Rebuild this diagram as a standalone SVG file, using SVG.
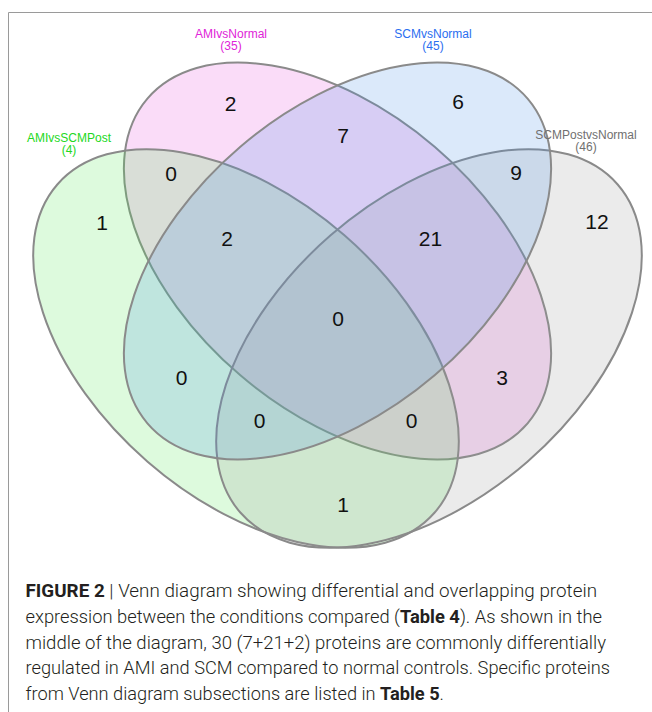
<svg xmlns="http://www.w3.org/2000/svg" width="652" height="712" viewBox="0 0 652 712">
<style>
.set{stroke:#8a8a8a;stroke-width:2;fill-opacity:0.2}
.num{font-family:"Liberation Sans",Arial,sans-serif;font-size:21px;fill:#111;text-anchor:middle}
.cat{font-family:"Liberation Sans",Arial,sans-serif;font-size:12px;text-anchor:middle}
.cap{font-family:Roboto,"Liberation Sans",Arial,sans-serif;font-weight:300;font-size:17.5px;fill:#231f20}
.b{font-weight:700}
</style>
<rect width="652" height="712" fill="#fff"/>
<path d="M8.5 712 V12.5 H652" fill="none" stroke="#9a9a9a" stroke-width="1"/>
<g id="set-AMIvsNormal"><ellipse class="set" cx="337.5" cy="261" rx="250" ry="150" transform="rotate(40.5 337.5 261)" fill="rgb(230,80,220)"/></g>
<g id="set-AMIvsSCMPost"><ellipse class="set" cx="246" cy="348.5" rx="250" ry="150" transform="rotate(41 246 348.5)" fill="rgb(85,230,85)"/></g>
<g id="set-SCMPostvsNormal"><ellipse class="set" cx="429" cy="348.5" rx="250" ry="150" transform="rotate(-41 429 348.5)" fill="rgb(155,155,155)"/></g>
<g id="set-SCMvsNormal"><ellipse class="set" cx="337.5" cy="261" rx="250" ry="150" transform="rotate(-40.5 337.5 261)" fill="rgb(75,145,230)"/></g>
<g id="category-labels">
 <text class="cat" x="231" y="37.5" fill="#e023d8">AMIvsNormal</text>
 <text class="cat" x="231" y="50" fill="#e023d8">(35)</text>
 <text class="cat" x="433" y="37.5" fill="#2a6ef0">SCMvsNormal</text>
 <text class="cat" x="433" y="50" fill="#2a6ef0">(45)</text>
 <text class="cat" x="69" y="141.5" fill="#22d822">AMIvsSCMPost</text>
 <text class="cat" x="69" y="154" fill="#22d822">(4)</text>
 <text class="cat" x="586" y="138.5" fill="#707070">SCMPostvsNormal</text>
 <text class="cat" x="586" y="151" fill="#707070">(46)</text>
</g>
<g id="region-counts">
 <text class="num" x="230.5" y="111">2</text>
 <text class="num" x="458" y="109">6</text>
 <text class="num" x="343" y="143">7</text>
 <text class="num" x="171" y="181">0</text>
 <text class="num" x="516" y="180">9</text>
 <text class="num" x="102" y="230">1</text>
 <text class="num" x="597" y="228.5">12</text>
 <text class="num" x="227" y="246">2</text>
 <text class="num" x="430.5" y="246">21</text>
 <text class="num" x="338" y="326">0</text>
 <text class="num" x="181.5" y="385">0</text>
 <text class="num" x="502" y="385">3</text>
 <text class="num" x="259.5" y="428">0</text>
 <text class="num" x="411.5" y="428">0</text>
 <text class="num" x="343" y="511.5">1</text>
</g>
<g id="caption">
 <text class="cap" x="25.5" y="597" textLength="571.5" lengthAdjust="spacingAndGlyphs"><tspan class="b">FIGURE 2</tspan> | Venn diagram showing differential and overlapping protein</text>
 <text class="cap" x="25.5" y="622.8" textLength="576.5" lengthAdjust="spacingAndGlyphs">expression between the conditions compared (<tspan class="b">Table 4</tspan>). As shown in the</text>
 <text class="cap" x="25.5" y="648.6" textLength="580.5" lengthAdjust="spacingAndGlyphs">middle of the diagram, 30 (7+21+2) proteins are commonly differentially</text>
 <text class="cap" x="25.5" y="674.4" textLength="584.5" lengthAdjust="spacingAndGlyphs">regulated in AMI and SCM compared to normal controls. Specific proteins</text>
 <text class="cap" x="25.5" y="700.2" textLength="418.5" lengthAdjust="spacingAndGlyphs">from Venn diagram subsections are listed in <tspan class="b">Table 5</tspan>.</text>
</g>
</svg>
